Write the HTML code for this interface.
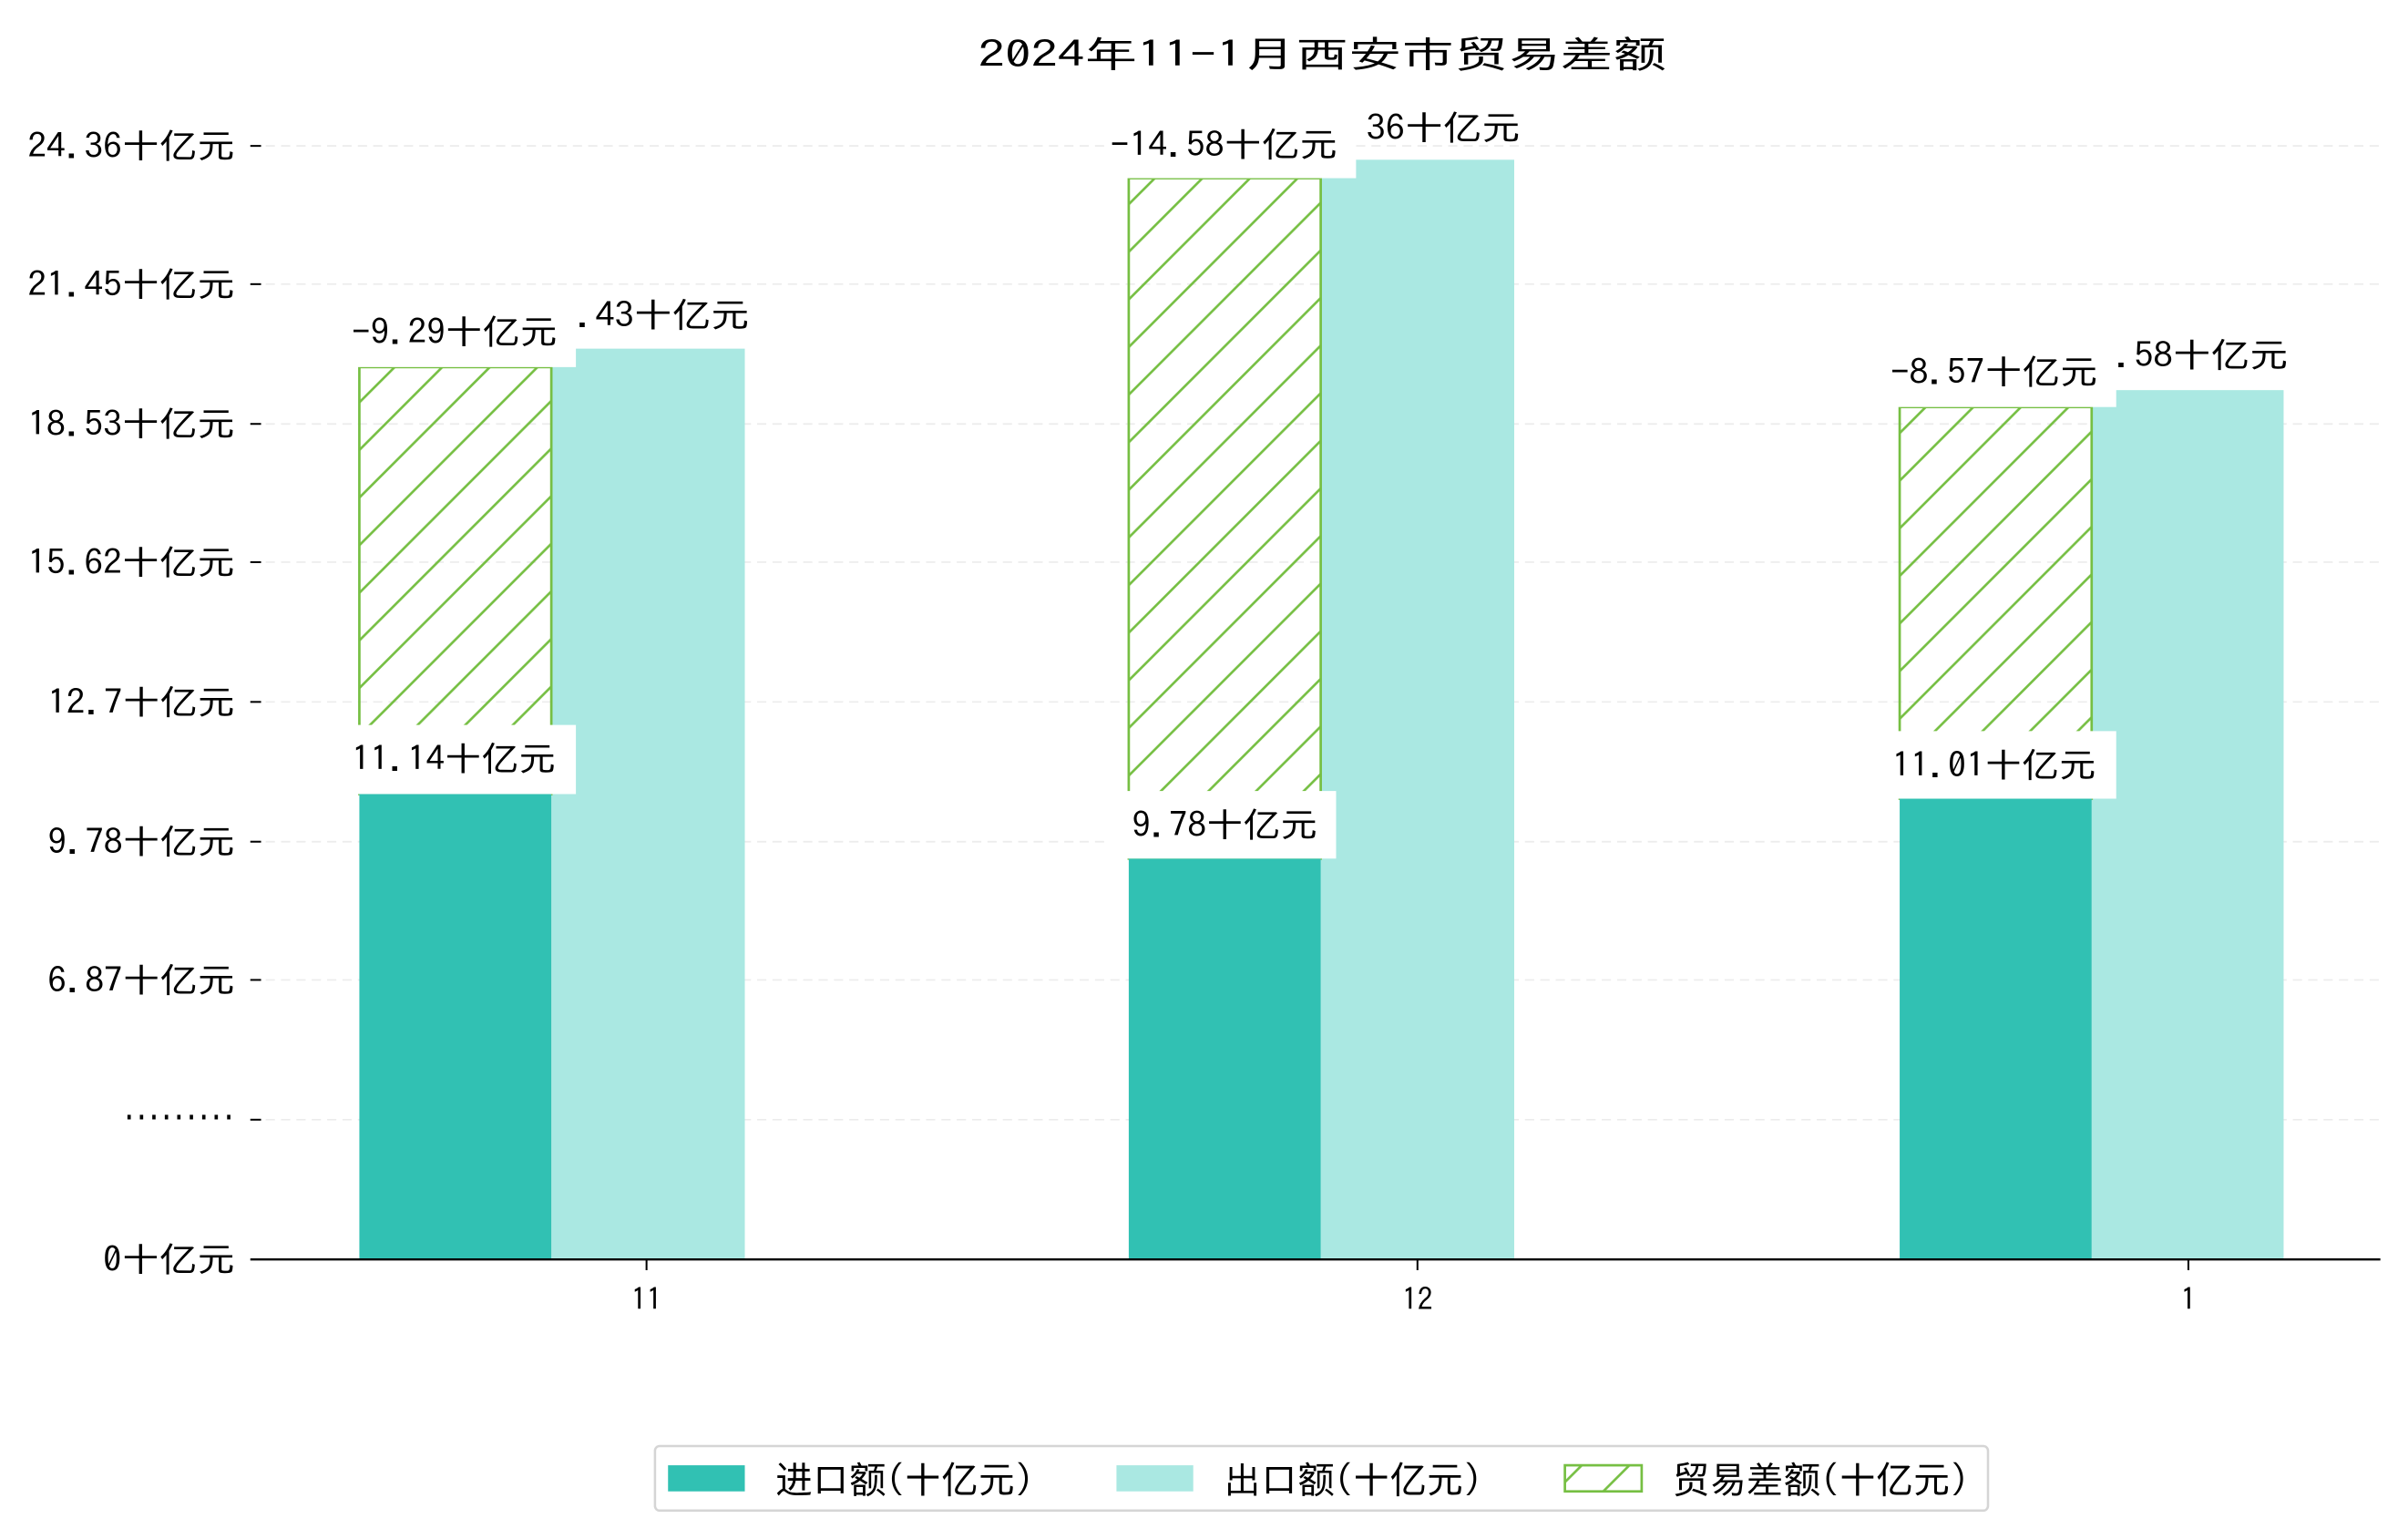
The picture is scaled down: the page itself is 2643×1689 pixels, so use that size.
<!DOCTYPE html>
<html><head><meta charset="utf-8"><style>html,body{margin:0;padding:0;background:#fff;}svg{display:block;}text{font-family:"IPAGothic","Noto Sans CJK SC",sans-serif;fill:#000;}</style></head>
<body>
<svg width="2643" height="1689" viewBox="0 0 1568 1002" preserveAspectRatio="none" xmlns="http://www.w3.org/2000/svg">
<defs>
<pattern id="h" patternUnits="userSpaceOnUse" width="31" height="31">
<path d="M-5,36 L36,-5 M-5,5 L5,-5 M26,36 L36,26" stroke="#76bf43" stroke-width="1.6"/>
</pattern>
</defs>
<rect width="1568" height="1002" fill="#fff"/>
<text x="637" y="44" font-size="24" textLength="448" lengthAdjust="spacingAndGlyphs">2024年11-1月西安市贸易差额</text>
<g stroke="#ececec" stroke-width="1" stroke-dasharray="6,4">
<line x1="163" x2="1550" y1="95" y2="95"/><line x1="163" x2="1550" y1="185" y2="185"/>
<line x1="163" x2="1550" y1="276" y2="276"/><line x1="163" x2="1550" y1="366" y2="366"/>
<line x1="163" x2="1550" y1="457" y2="457"/><line x1="163" x2="1550" y1="548" y2="548"/>
<line x1="163" x2="1550" y1="638" y2="638"/><line x1="163" x2="1550" y1="729" y2="729"/>
</g>
<g stroke="#000" stroke-width="1.2">
<line x1="163" x2="170" y1="95" y2="95"/><line x1="163" x2="170" y1="185" y2="185"/>
<line x1="163" x2="170" y1="276" y2="276"/><line x1="163" x2="170" y1="366" y2="366"/>
<line x1="163" x2="170" y1="457" y2="457"/><line x1="163" x2="170" y1="548" y2="548"/>
<line x1="163" x2="170" y1="638" y2="638"/><line x1="163" x2="170" y1="729" y2="729"/>
<line x1="421" x2="421" y1="820" y2="827"/><line x1="923" x2="923" y1="820" y2="827"/><line x1="1425" x2="1425" y1="820" y2="827"/>
</g>
<g font-size="22">
<text x="18" y="103" textLength="135" lengthAdjust="spacingAndGlyphs">24.36十亿元</text>
<text x="18" y="193" textLength="135" lengthAdjust="spacingAndGlyphs">21.45十亿元</text>
<text x="18" y="284" textLength="135" lengthAdjust="spacingAndGlyphs">18.53十亿元</text>
<text x="18" y="374" textLength="135" lengthAdjust="spacingAndGlyphs">15.62十亿元</text>
<text x="31" y="465" textLength="122" lengthAdjust="spacingAndGlyphs">12.7十亿元</text>
<text x="31" y="556" textLength="122" lengthAdjust="spacingAndGlyphs">9.78十亿元</text>
<text x="31" y="646" textLength="122" lengthAdjust="spacingAndGlyphs">6.87十亿元</text>
<text x="80" y="736" textLength="73" lengthAdjust="spacingAndGlyphs">·········</text>
<text x="67" y="828" textLength="86" lengthAdjust="spacingAndGlyphs">0十亿元</text>
</g>
<g font-size="20" text-anchor="middle">
<text x="421" y="853">11</text><text x="923" y="853">12</text><text x="1425" y="853">1</text>
</g>
<rect x="359" y="227" width="126" height="593" fill="#aae8e2"/>
<rect x="860" y="104" width="126" height="716" fill="#aae8e2"/>
<rect x="1362" y="254" width="125" height="566" fill="#aae8e2"/>
<g stroke="#76bf43" stroke-width="1.6">
<rect x="234" y="239" width="125" height="278" fill="url(#h)"/>
<rect x="735" y="116" width="125" height="443" fill="url(#h)"/>
<rect x="1237" y="265" width="125" height="255" fill="url(#h)"/>
</g>
<rect x="234" y="517" width="125" height="303" fill="#31c1b3"/>
<rect x="735" y="559" width="125" height="261" fill="#31c1b3"/>
<rect x="1237" y="520" width="125" height="300" fill="#31c1b3"/>
<line x1="163" x2="1550" y1="820" y2="820" stroke="#000" stroke-width="1.4"/>
<g font-size="22">
<text x="350" y="213" textLength="138" lengthAdjust="spacingAndGlyphs">20.43十亿元</text>
<text x="852" y="91" textLength="138" lengthAdjust="spacingAndGlyphs">24.36十亿元</text>
<text x="1352" y="239" textLength="138" lengthAdjust="spacingAndGlyphs">19.58十亿元</text>
</g>
<g fill="#fff">
<rect x="222" y="192" width="153" height="47"/><rect x="222" y="472" width="153" height="45"/>
<rect x="722" y="72" width="161" height="44"/><rect x="722" y="515" width="148" height="44"/>
<rect x="1223" y="218" width="155" height="47"/><rect x="1223" y="476" width="155" height="44"/>
</g>
<g font-size="22">
<text x="229" y="224" textLength="134" lengthAdjust="spacingAndGlyphs">-9.29十亿元</text>
<text x="229" y="502" textLength="133" lengthAdjust="spacingAndGlyphs">11.14十亿元</text>
<text x="723" y="102" textLength="148" lengthAdjust="spacingAndGlyphs">-14.58十亿元</text>
<text x="737" y="545" textLength="121" lengthAdjust="spacingAndGlyphs">9.78十亿元</text>
<text x="1231" y="250" textLength="135" lengthAdjust="spacingAndGlyphs">-8.57十亿元</text>
<text x="1232" y="506" textLength="133" lengthAdjust="spacingAndGlyphs">11.01十亿元</text>
</g>
<rect x="426.5" y="941.5" width="868" height="42" rx="3" fill="#fff" stroke="#d5d5d5" stroke-width="1.5"/>
<rect x="435" y="954" width="50" height="17" fill="#31c1b3"/>
<rect x="727" y="954" width="50" height="17" fill="#aae8e2"/>
<rect x="1019" y="954" width="50" height="17" fill="url(#h)" stroke="#76bf43" stroke-width="1.6"/>
<g font-size="24">
<text x="505" y="972" textLength="168" lengthAdjust="spacingAndGlyphs">进口额(十亿元)</text>
<text x="797" y="972" textLength="168" lengthAdjust="spacingAndGlyphs">出口额(十亿元)</text>
<text x="1089" y="972" textLength="193" lengthAdjust="spacingAndGlyphs">贸易差额(十亿元)</text>
</g>
</svg>
</body></html>
